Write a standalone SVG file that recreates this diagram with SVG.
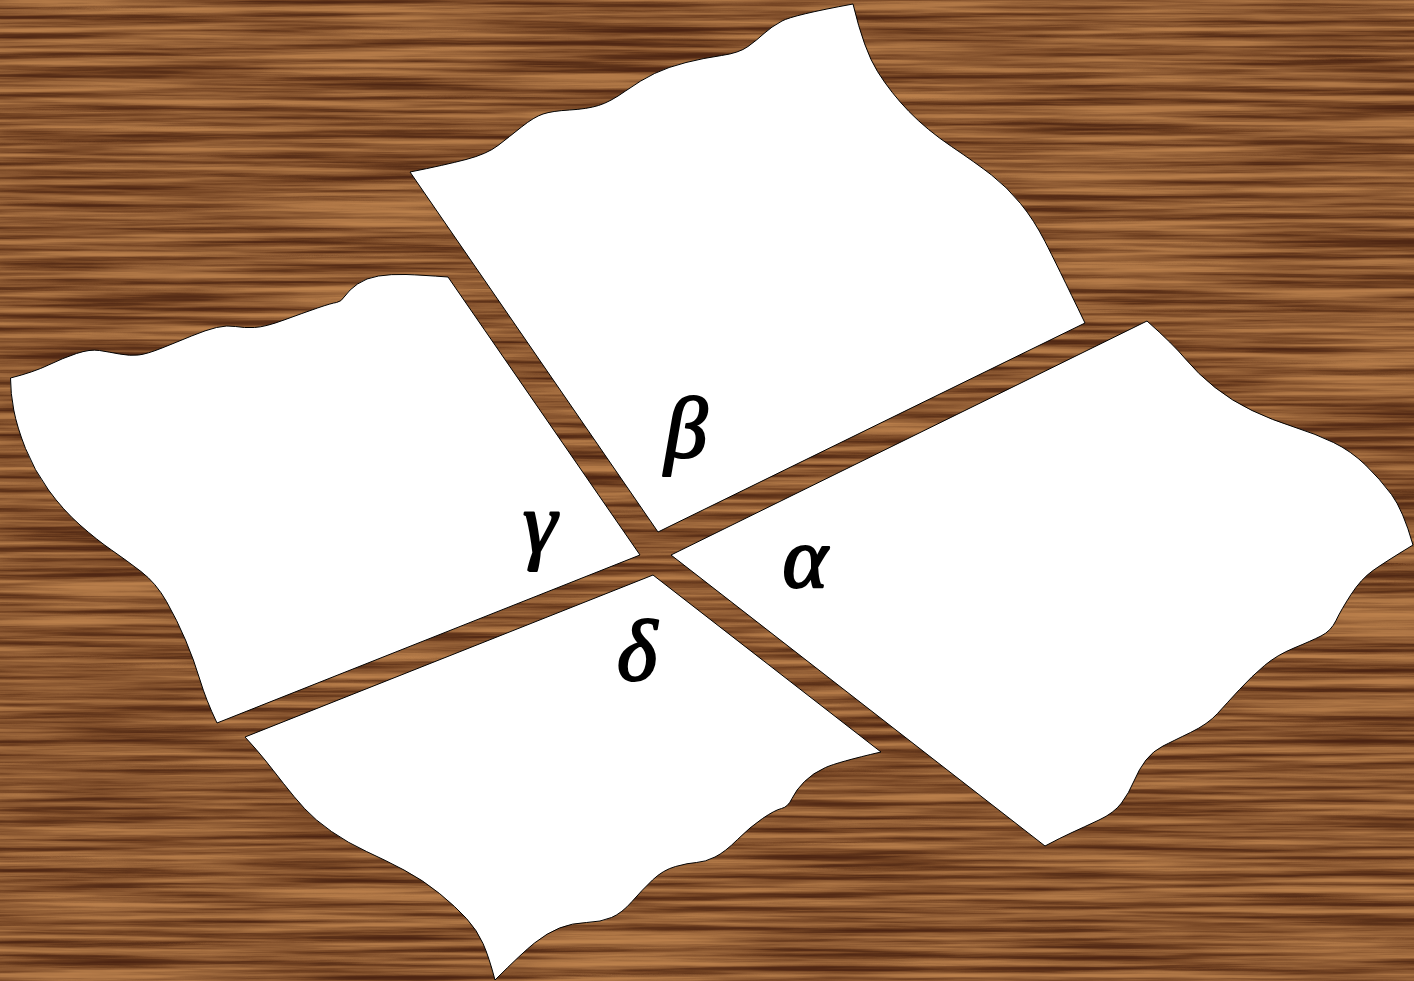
<svg xmlns="http://www.w3.org/2000/svg" width="1414" height="981" viewBox="0 0 1414 981">
<defs>
<filter id="wood" filterUnits="userSpaceOnUse" x="0" y="0" width="1414" height="981" color-interpolation-filters="sRGB">
<feTurbulence type="fractalNoise" baseFrequency="0.004 0.15" numOctaves="5" seed="11" result="t"/>
<feColorMatrix in="t" type="matrix" values="1 0 0 0 0 1 0 0 0 0 1 0 0 0 0 0 0 0 0 1" result="g"/>
<feComponentTransfer in="g">
<feFuncR type="table" tableValues="0.3 0.3 0.32 0.37 0.46 0.54 0.61 0.68 0.72 0.74 0.74"/>
<feFuncG type="table" tableValues="0.14 0.14 0.16 0.2 0.27 0.34 0.4 0.46 0.49 0.51 0.51"/>
<feFuncB type="table" tableValues="0.07 0.07 0.08 0.1 0.14 0.19 0.23 0.27 0.29 0.3 0.3"/>
<feFuncA type="linear" slope="0" intercept="1"/>
</feComponentTransfer>
</filter>
</defs>
<style>
.paper{fill:#fff;stroke:#000;stroke-width:1;stroke-linejoin:round}
.lbl{font-family:"Liberation Serif","DejaVu Serif",serif;font-style:italic;font-size:86px;fill:#000;stroke:#000;stroke-width:2.2;stroke-linejoin:round;text-anchor:middle}
</style>
<rect id="background" x="0" y="0" width="1414" height="981" fill="#8b5a2e"/>
<rect x="0" y="0" width="1414" height="981" filter="url(#wood)"/>
<g id="piece-beta">
<path class="paper" d="M410,172 Q445,165 466,159.5 Q487,154 498,145.5 Q509,137 521.5,127 Q534,117 543,114 Q552,111 569.5,110 Q587,109 598.5,105.5 Q610,102 625.5,91 Q641,80 654.5,73.5 Q668,67 686,62.5 Q704,58 721.5,55.5 Q739,53 748,46.5 Q757,40 764,33.5 Q771,27 782,21 Q793,15 853,4 Q864,50 877.5,71.5 Q891,93 909,111.5 Q927,130 951.5,146.5 Q976,163 991.5,175 Q1007,187 1020.5,203.5 Q1034,220 1045,241.5 Q1056,263 1085,323 L658,532 Z"/>
<text class="lbl" x="686" y="457">β</text>
</g>
<g id="piece-gamma">
<path class="paper" d="M10.5,378 Q34,372 48.5,365 Q63,358 76.5,353.5 Q90,349 99.5,350.5 Q109,352 119.5,354 Q130,356 138.5,355 Q147,354 162,348 Q177,342 191.5,336 Q206,330 216.5,327.5 Q227,325 235.5,326.5 Q244,328 254.5,327.5 Q265,327 284,320 Q303,313 317.5,308 Q332,303 336.5,302.5 Q341,302 345,296 Q349,290 357.5,284 Q366,278 378.5,276 Q391,274 406,274.5 Q421,275 448,277 L640,555 L217,723 Q206,700 200,680 Q194,660 185.5,640 Q177,620 166.5,601.5 Q156,583 141,571.5 Q126,560 111.5,550 Q97,540 80,525 Q63,510 48.5,490 Q34,470 25.5,448.5 Q17,427 13.75,410 Q10.5,393 10.5,378 Z"/>
<text class="lbl" x="540" y="552">γ</text>
</g>
<g id="piece-alpha">
<path class="paper" d="M1147,321 Q1173,344 1185.5,359 Q1198,374 1215,387.5 Q1232,401 1252,410.5 Q1272,420 1294,427 Q1316,434 1333.5,442.5 Q1351,451 1365.5,465 Q1380,479 1391.5,494.5 Q1403,510 1413,545 Q1385,562 1373,570.5 Q1361,579 1351,594.5 Q1341,610 1336,620.5 Q1331,631 1321,636 Q1311,641 1294,648 Q1277,655 1264.5,665.5 Q1252,676 1239.5,689.5 Q1227,703 1217.5,713.5 Q1208,724 1190.5,732.5 Q1173,741 1163,746 Q1153,751 1146,760 Q1139,769 1134,781 Q1129,793 1121.5,803 Q1114,813 1099,820 Q1084,827 1072,832.5 Q1060,838 1045,846 L671,555 Z"/>
<text class="lbl" x="805" y="587">α</text>
</g>
<g id="piece-delta">
<path class="paper" d="M245,737 L653,575 L881,752 Q838,762 825.5,767.5 Q813,773 804.5,781.5 Q796,790 792,798.5 Q788,807 781.5,808.5 Q775,810 762.5,818.5 Q750,827 737.5,839.5 Q725,852 715,857 Q705,862 696.5,862.5 Q688,863 675.5,866.5 Q663,870 652.5,880 Q642,890 632,901.5 Q622,913 611.5,917.5 Q601,922 586.5,922.5 Q572,923 559.5,928 Q547,933 534.5,943 Q522,953 495,980 Q489,957 483,943.5 Q477,930 466.5,918.5 Q456,907 439.5,893.5 Q423,880 404,870 Q385,860 366.5,851.5 Q348,843 331.5,831.5 Q315,820 304.5,808.5 Q294,797 283.5,783.5 Q273,770 265,760 Q257,750 245,737 Z"/>
<text class="lbl" x="637" y="680">δ</text>
</g>
</svg>
